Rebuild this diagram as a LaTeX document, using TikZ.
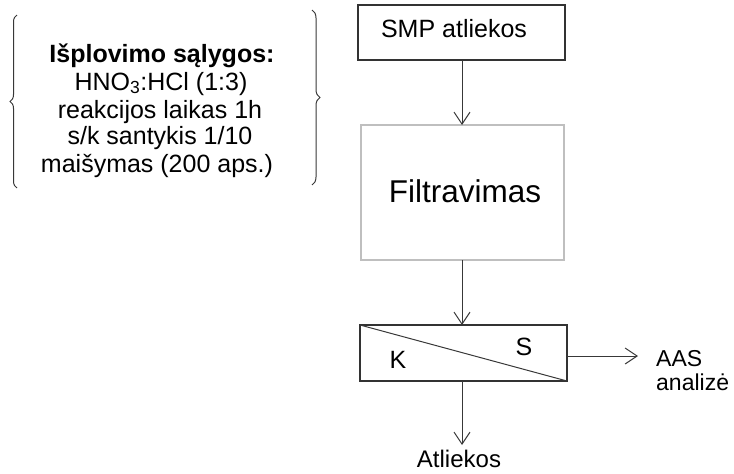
\documentclass[tikz,border=0pt]{standalone}
\usepackage{fontspec}
\setmainfont{Liberation Sans}
\usetikzlibrary{arrows.meta,decorations.pathreplacing}
\begin{document}
\begin{tikzpicture}[x=1pt,y=-1pt,
  every node/.style={font=\fontsize{25}{27.5}\selectfont, text=black, inner sep=0pt},
  txt/.style={anchor=base},
  line/.style={draw=black!78, line width=1pt},
  arr/.style={line, -{Straight Barb[length=12pt,width=16pt]}},
  procbox/.style={draw=black!80, line width=1.2pt},
  graybox/.style={draw=black!25, line width=1.2pt}]
\useasboundingbox (0,0) rectangle (734,474);
% boxes
\draw[procbox] (358,5) rectangle (565,60);
\node[txt] (smp) at (454,37) {SMP atliekos};
\coordinate (smpb) at (462,60);
\draw[graybox] (361,125) rectangle (564,260);
\node[txt, font=\fontsize{31.5}{34}\selectfont] (filt) at (465,202) {Filtravimas};
\coordinate (filtt) at (462,125);
\coordinate (filtb) at (462,260);
\draw[procbox] (360,325) rectangle (567,381);
\draw[line] (360,325) -- (567,381);
\coordinate (sept) at (462,325);
\coordinate (sepb) at (462,381);
\coordinate (sepr) at (567,356);
\node[txt] (s) at (524,355) {S};
\node[txt] (k) at (398,368) {K};
% arrows
\draw[arr] (smpb) -- (filtt);
\draw[arr] (filtb) -- (sept);
\node[anchor=base west, font=\fontsize{23}{25}\selectfont] (aas1) at (656,366) {AAS};
\node[anchor=base west, font=\fontsize{23}{25}\selectfont] (aas2) at (656,390) {analizė};
\coordinate (aasl) at (638,356);
\draw[arr] (sepr) -- (aasl);
\node[txt, font=\fontsize{24}{26}\selectfont] (atl) at (459,467) {Atliekos};
\coordinate (atlt) at (462,445);
\draw[arr] (sepb) -- (atlt);
% conditions
\node[txt] (c1) at (162,62) {\textbf{Išplovimo sąlygos:}};
\node[txt] (c2) at (161,90) {HNO\textsubscript{3}:HCl (1:3)};
\node[txt] (c3) at (160,118) {reakcijos laikas 1h};
\node[txt] (c4) at (160,144) {s/k santykis 1/10};
\node[txt] (c5) at (157,172) {maišymas (200 aps.)};
\draw[line, decorate, decoration={brace, amplitude=7pt, aspect=0.5}] (17,188) -- (17,15);
\draw[line, decorate, decoration={brace, amplitude=8pt, aspect=0.5}] (312,10) -- (312,185);
\end{tikzpicture}
\end{document}
